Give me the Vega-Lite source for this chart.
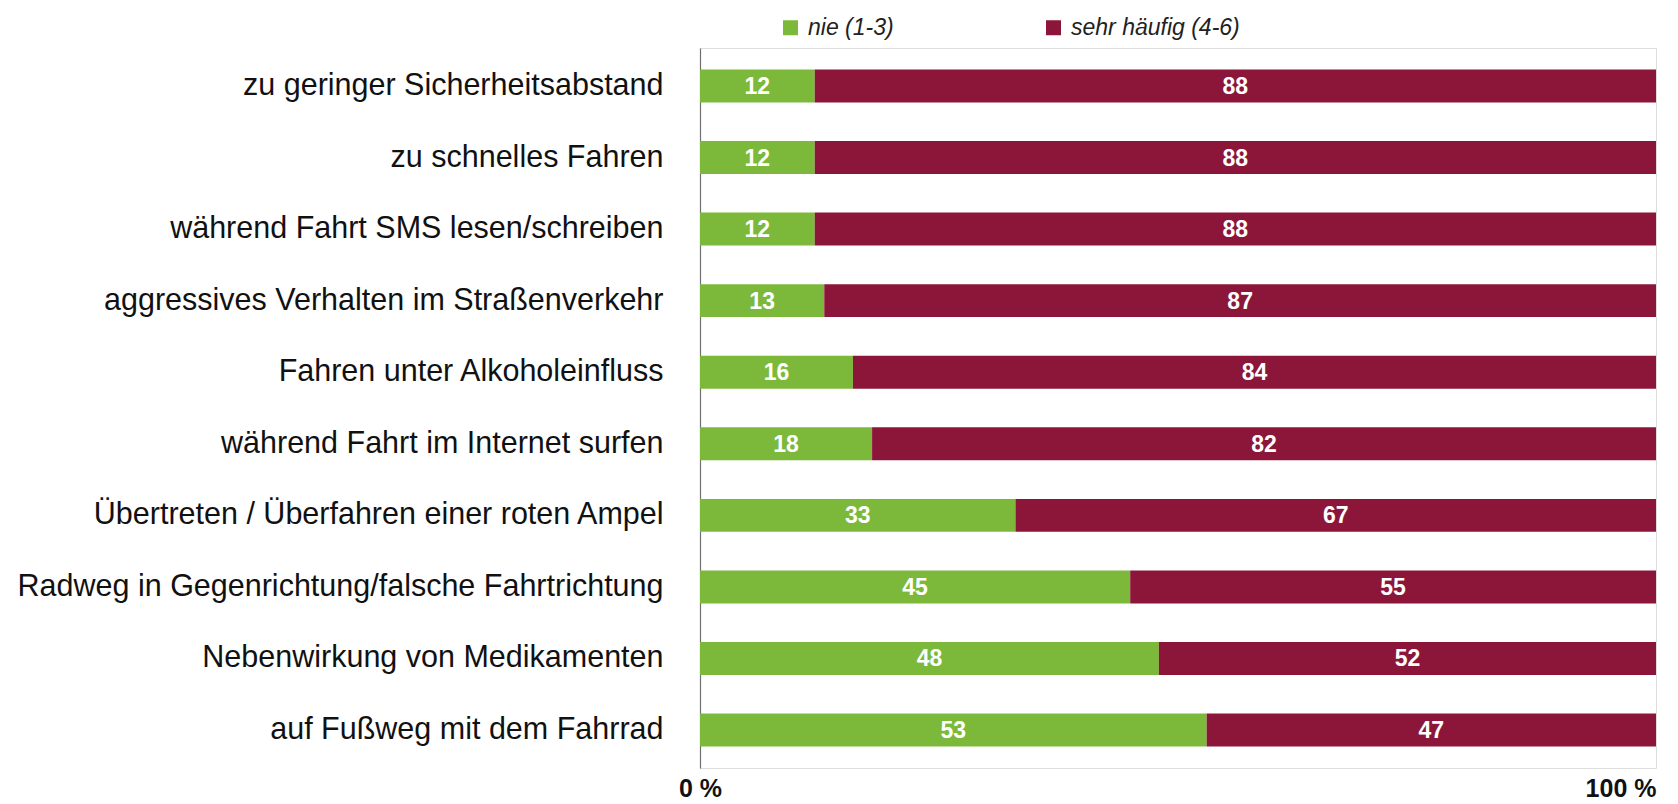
{
  "$schema": "https://vega.github.io/schema/vega-lite/v6.json",
  "width": 956,
  "height": 720,
  "autosize": {"type": "none"},
  "padding": {"left": 700, "top": 48, "right": 22, "bottom": 36},
  "background": "white",
  "data": {
    "values": [
      {"item": "zu geringer Sicherheitsabstand", "cat": "nie (1-3)", "seg": 1, "value": 12},
      {"item": "zu geringer Sicherheitsabstand", "cat": "sehr häufig (4-6)", "seg": 2, "value": 88},
      {"item": "zu schnelles Fahren", "cat": "nie (1-3)", "seg": 1, "value": 12},
      {"item": "zu schnelles Fahren", "cat": "sehr häufig (4-6)", "seg": 2, "value": 88},
      {"item": "während Fahrt SMS lesen/schreiben", "cat": "nie (1-3)", "seg": 1, "value": 12},
      {"item": "während Fahrt SMS lesen/schreiben", "cat": "sehr häufig (4-6)", "seg": 2, "value": 88},
      {"item": "aggressives Verhalten im Straßenverkehr", "cat": "nie (1-3)", "seg": 1, "value": 13},
      {"item": "aggressives Verhalten im Straßenverkehr", "cat": "sehr häufig (4-6)", "seg": 2, "value": 87},
      {"item": "Fahren unter Alkoholeinfluss", "cat": "nie (1-3)", "seg": 1, "value": 16},
      {"item": "Fahren unter Alkoholeinfluss", "cat": "sehr häufig (4-6)", "seg": 2, "value": 84},
      {"item": "während Fahrt im Internet surfen", "cat": "nie (1-3)", "seg": 1, "value": 18},
      {"item": "während Fahrt im Internet surfen", "cat": "sehr häufig (4-6)", "seg": 2, "value": 82},
      {"item": "Übertreten / Überfahren einer roten Ampel", "cat": "nie (1-3)", "seg": 1, "value": 33},
      {"item": "Übertreten / Überfahren einer roten Ampel", "cat": "sehr häufig (4-6)", "seg": 2, "value": 67},
      {"item": "Radweg in Gegenrichtung/falsche Fahrtrichtung", "cat": "nie (1-3)", "seg": 1, "value": 45},
      {"item": "Radweg in Gegenrichtung/falsche Fahrtrichtung", "cat": "sehr häufig (4-6)", "seg": 2, "value": 55},
      {"item": "Nebenwirkung von Medikamenten", "cat": "nie (1-3)", "seg": 1, "value": 48},
      {"item": "Nebenwirkung von Medikamenten", "cat": "sehr häufig (4-6)", "seg": 2, "value": 52},
      {"item": "auf Fußweg mit dem Fahrrad", "cat": "nie (1-3)", "seg": 1, "value": 53},
      {"item": "auf Fußweg mit dem Fahrrad", "cat": "sehr häufig (4-6)", "seg": 2, "value": 47}
    ]
  },
  "transform": [
    {"stack": "value", "groupby": ["item"], "sort": [{"field": "seg", "order": "ascending"}], "as": ["v0", "v1"]},
    {"calculate": "(datum.v0 + datum.v1) / 2", "as": "mid"}
  ],
  "encoding": {
    "y": {
      "field": "item",
      "type": "nominal",
      "sort": null,
      "scale": {"paddingInner": 0.54, "paddingOuter": 0.3},
      "axis": {
        "title": null,
        "ticks": false,
        "domain": true,
        "domainColor": "#6f6f6f",
        "domainWidth": 1.2,
        "labelFont": "Liberation Sans",
        "labelFontSize": 30.5,
        "labelColor": "#111111",
        "labelPadding": 37,
        "labelLimit": 700
      }
    }
  },
  "layer": [
    {
      "mark": {"type": "bar"},
      "encoding": {
        "x": {
          "field": "v0",
          "type": "quantitative",
          "scale": {"domain": [0, 100]},
          "axis": {
            "title": null,
            "values": [0, 100],
            "labelExpr": "datum.value + ' %'",
            "domain": false,
            "ticks": false,
            "grid": false,
            "labelFont": "Liberation Sans",
            "labelFontWeight": "bold",
            "labelFontSize": 25,
            "labelColor": "#111111",
            "labelPadding": 8,
            "labelAlign": {"condition": {"test": "datum.value == 100", "value": "right"}, "value": "center"}
          }
        },
        "x2": {"field": "v1"},
        "color": {
          "field": "cat",
          "type": "nominal",
          "scale": {"domain": ["nie (1-3)", "sehr häufig (4-6)"], "range": ["#7cb93a", "#8c1639"]},
          "legend": {
            "title": null,
            "orient": "none",
            "direction": "horizontal",
            "legendX": 79,
            "legendY": -32,
            "padding": 0,
            "symbolType": "square",
            "symbolSize": 225,
            "symbolStrokeWidth": 0,
            "labelFont": "Liberation Sans",
            "labelFontStyle": "italic",
            "labelFontSize": 23,
            "labelColor": "#222222",
            "labelOffset": 6,
            "labelLimit": 400,
            "columnPadding": 148
          }
        }
      }
    },
    {
      "mark": {"type": "text", "color": "white", "font": "Liberation Sans", "fontWeight": "bold", "fontSize": 23, "baseline": "middle", "align": "center", "dy": 1},
      "encoding": {
        "x": {"field": "mid", "type": "quantitative"},
        "text": {"field": "value", "type": "quantitative"}
      }
    }
  ]
}
